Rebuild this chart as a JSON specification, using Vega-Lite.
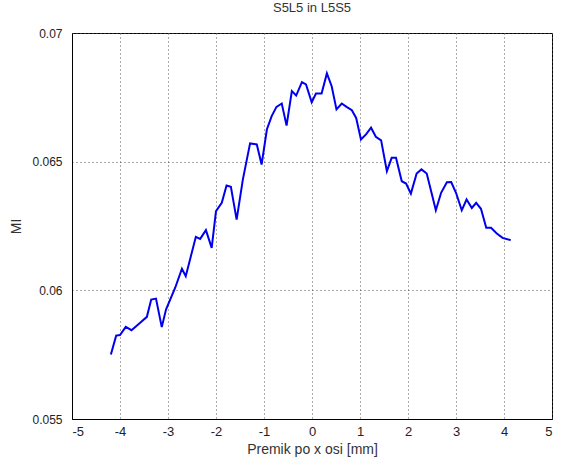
{
  "$schema": "https://vega.github.io/schema/vega-lite/v6.json",
  "width": 480,
  "height": 386,
  "autosize": {"type": "none"},
  "padding": {"left": 72, "top": 33, "right": 9, "bottom": 40},
  "background": "white",
  "title": {"text": "S5L5 in L5S5", "font": "Liberation Sans", "fontSize": 13, "fontWeight": "normal", "color": "#333333", "offset": 12},
  "config": {
    "view": {"stroke": "black", "strokeWidth": 1},
    "axis": {"labelFont": "Liberation Sans", "titleFont": "Liberation Sans", "labelFontSize": 12, "titleFontSize": 14, "titleFontWeight": "normal", "labelColor": "#222", "titleColor": "#333", "domainColor": "black", "ticks": false, "gridColor": "#555", "gridDash": [1, 3], "gridOpacity": 1}
  },
  "data": {"values": [
    {"x": -4.19, "y": 0.05751}, {"x": -4.08, "y": 0.05824}, {"x": -4.0, "y": 0.05826}, {"x": -3.88, "y": 0.05858},
    {"x": -3.76, "y": 0.05845}, {"x": -3.58, "y": 0.05874}, {"x": -3.44, "y": 0.05897}, {"x": -3.35, "y": 0.05964},
    {"x": -3.25, "y": 0.05968}, {"x": -3.13, "y": 0.05857}, {"x": -3.04, "y": 0.05926}, {"x": -2.85, "y": 0.0601},
    {"x": -2.71, "y": 0.06084}, {"x": -2.63, "y": 0.06055}, {"x": -2.42, "y": 0.06208}, {"x": -2.33, "y": 0.062},
    {"x": -2.21, "y": 0.06234}, {"x": -2.09, "y": 0.06165}, {"x": -2.0, "y": 0.06308}, {"x": -1.88, "y": 0.0634},
    {"x": -1.78, "y": 0.06407}, {"x": -1.69, "y": 0.06402}, {"x": -1.57, "y": 0.06275}, {"x": -1.44, "y": 0.06431},
    {"x": -1.29, "y": 0.06571}, {"x": -1.15, "y": 0.06567}, {"x": -1.05, "y": 0.06489}, {"x": -0.94, "y": 0.06625},
    {"x": -0.84, "y": 0.06677}, {"x": -0.74, "y": 0.06713}, {"x": -0.63, "y": 0.06726}, {"x": -0.53, "y": 0.0664},
    {"x": -0.42, "y": 0.06774}, {"x": -0.33, "y": 0.06757}, {"x": -0.21, "y": 0.06809}, {"x": -0.125, "y": 0.068},
    {"x": -0.006, "y": 0.06731}, {"x": 0.083, "y": 0.06765}, {"x": 0.2, "y": 0.06765}, {"x": 0.31, "y": 0.06843},
    {"x": 0.41, "y": 0.06793}, {"x": 0.51, "y": 0.06703}, {"x": 0.62, "y": 0.06726}, {"x": 0.72, "y": 0.06713},
    {"x": 0.83, "y": 0.067}, {"x": 0.92, "y": 0.0667}, {"x": 1.02, "y": 0.06586}, {"x": 1.125, "y": 0.06606},
    {"x": 1.23, "y": 0.06632}, {"x": 1.33, "y": 0.06597}, {"x": 1.44, "y": 0.06583}, {"x": 1.56, "y": 0.06463},
    {"x": 1.66, "y": 0.06515}, {"x": 1.75, "y": 0.06515}, {"x": 1.87, "y": 0.06424}, {"x": 1.96, "y": 0.06415},
    {"x": 2.06, "y": 0.06376}, {"x": 2.18, "y": 0.06454}, {"x": 2.28, "y": 0.0647}, {"x": 2.39, "y": 0.06454},
    {"x": 2.49, "y": 0.06379}, {"x": 2.58, "y": 0.06311}, {"x": 2.69, "y": 0.06379}, {"x": 2.81, "y": 0.0642},
    {"x": 2.9, "y": 0.06421}, {"x": 3.0, "y": 0.06379}, {"x": 3.12, "y": 0.06311}, {"x": 3.22, "y": 0.06353},
    {"x": 3.33, "y": 0.0632}, {"x": 3.42, "y": 0.0634}, {"x": 3.52, "y": 0.06317}, {"x": 3.63, "y": 0.06243},
    {"x": 3.73, "y": 0.06243}, {"x": 3.85, "y": 0.06221}, {"x": 3.97, "y": 0.06204}, {"x": 4.14, "y": 0.06195}
  ]},
  "mark": {"type": "line", "color": "#0000ee", "strokeWidth": 2},
  "encoding": {
    "x": {"field": "x", "type": "quantitative", "scale": {"domain": [-5, 5], "nice": false, "zero": false},
      "axis": {"values": [-5, -4, -3, -2, -1, 0, 1, 2, 3, 4, 5], "labelExpr": "'' + datum.value", "labelFontSize": 13, "title": "Premik po x osi [mm]", "titlePadding": 4, "labelPadding": 6}},
    "y": {"field": "y", "type": "quantitative", "scale": {"domain": [0.055, 0.07], "nice": false, "zero": false},
      "axis": {"values": [0.055, 0.06, 0.065, 0.07], "format": ".3~f", "title": "MI", "titlePadding": 8, "labelPadding": 10}}
  }
}
